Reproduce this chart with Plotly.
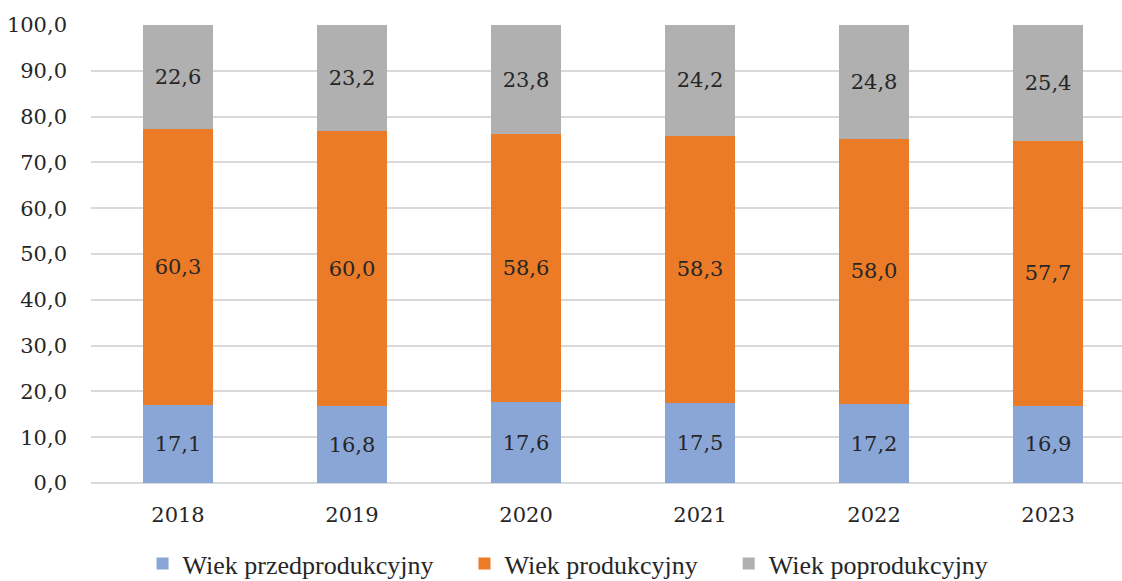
import plotly.graph_objects as go

years = ["2018", "2019", "2020", "2021", "2022", "2023"]
pre_working = [17.1, 16.8, 17.6, 17.5, 17.2, 16.9]
working = [60.3, 60.0, 58.6, 58.3, 58.0, 57.7]
post_working = [22.6, 23.2, 23.8, 24.2, 24.8, 25.4]

series = [
    ("Wiek przedprodukcyjny", pre_working, "#8AA6D6"),
    ("Wiek produkcyjny", working, "#EB7B26"),
    ("Wiek poprodukcyjny", post_working, "#B0B0B0"),
]

TEXT_FONT = "Times New Roman"   # legend entries
NUM_FONT = "DejaVu Serif"       # numeric tick labels and bar values
NUM_SIZE = 21
TXT = "#262626"
PAD = "\u00a0" * 4              # extra spacing between legend entries


def fmt(v):
    return f"{v:.1f}".replace(".", ",")


fig = go.Figure()
for i, (name, vals, color) in enumerate(series):
    fig.add_trace(go.Bar(
        x=years,
        y=vals,
        name=name + (PAD if i < len(series) - 1 else ""),
        marker=dict(color=color, line=dict(width=0)),
        width=0.4,
        text=[fmt(v) for v in vals],
        textposition="inside",
        insidetextanchor="middle",
        textangle=0,
        textfont=dict(family=NUM_FONT, size=NUM_SIZE, color=TXT),
        hoverinfo="skip",
    ))

fig.update_layout(
    barmode="stack",
    width=1122,
    height=581,
    margin=dict(l=91, r=0, t=25, b=98, autoexpand=False),
    plot_bgcolor="white",
    paper_bgcolor="white",
    font=dict(family=NUM_FONT, size=NUM_SIZE, color=TXT),
    showlegend=True,
    legend=dict(
        orientation="h",
        x=0.05, xanchor="left",
        yref="container",
        y=0.03, yanchor="middle",
        font=dict(family=TEXT_FONT, size=26, color=TXT),
        itemwidth=30,
        traceorder="normal",
    ),
    separators=", ",
)

fig.update_xaxes(
    type="category",
    range=[-0.5, 5.425],
    showgrid=False,
    showline=False,
    ticks="",
    tickfont=dict(family=NUM_FONT, size=NUM_SIZE, color=TXT),
    ticklabelstandoff=17,
)

fig.update_yaxes(
    range=[0, 100],
    dtick=10,
    tickformat=".1f",
    showgrid=True,
    gridcolor="#D9D9D9",
    gridwidth=2,
    zeroline=True,
    zerolinecolor="#D9D9D9",
    zerolinewidth=2,
    showline=False,
    ticks="",
    ticklabelstandoff=23,
    tickfont=dict(family=NUM_FONT, size=NUM_SIZE, color=TXT),
)

fig.write_html("out.html")
